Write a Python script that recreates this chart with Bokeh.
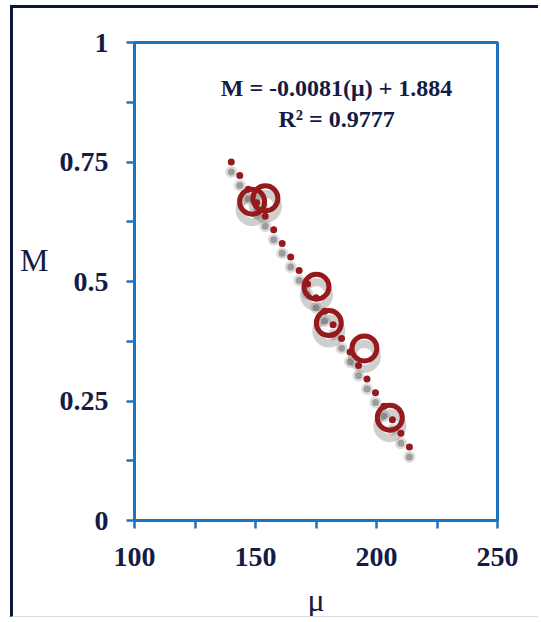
from bokeh.plotting import figure
from bokeh.models import Range1d, FixedTicker, Label
from bokeh.embed import file_html
from bokeh.resources import INLINE

# measured points: viscosity-type parameter mu vs M
mu = [148.6, 154.1, 175.2, 180.3, 195.0, 205.5]
m_vals = [0.667, 0.674, 0.489, 0.413, 0.360, 0.215]

# linear trend (as stated on the chart), extended a little past the data
slope = -0.0081
intercept = 1.884
r_squared = 0.9777
trend_mu = [140, 214]
trend_m = [slope * x + intercept for x in trend_mu]

x_ticks = [100, 150, 200, 250]
x_tick_labels = ["100", "150", "200", "250"]
x_minor = [125, 175, 225]
y_ticks = [0, 0.25, 0.5, 0.75, 1]
y_tick_labels = ["0", "0.25", "0.5", "0.75", "1"]
y_minor = [0.125, 0.375, 0.625, 0.875]

NAVY = "#141c46"
DARK = "#0b1640"
BLUE = "#1f72be"
RED = "#961a1c"
SERIF = "Liberation Serif"

W, H = 528, 612
B_LEFT, B_RIGHT, B_TOP, B_BOTTOM = 121, 44, 34, 98
frame_h = H - B_TOP - B_BOTTOM

p = figure(width=W, height=H, x_range=Range1d(100, 250), y_range=Range1d(0, 1),
           output_backend="svg", toolbar_location=None,
           min_border_left=B_LEFT, min_border_right=B_RIGHT,
           min_border_top=B_TOP, min_border_bottom=B_BOTTOM)
p.styles = {
    "margin-left": "10px",
    "margin-top": "5px",
    "border-left": f"3px solid {DARK}",
    "border-top": f"3px solid {DARK}",
    "border-bottom": "1px solid #dcdcdc",
}
p.background_fill_color = "white"
p.border_fill_color = "white"
p.grid.visible = False
p.outline_line_color = BLUE
p.outline_line_width = 3

for ax, ticks, minor, labels in ((p.xaxis[0], x_ticks, x_minor, x_tick_labels),
                                 (p.yaxis[0], y_ticks, y_minor, y_tick_labels)):
    ax.ticker = FixedTicker(ticks=ticks, minor_ticks=minor)
    ax.major_label_overrides = dict(zip(ticks, labels))
    ax.axis_line_color = BLUE
    ax.axis_line_width = 3
    ax.major_tick_line_color = BLUE
    ax.minor_tick_line_color = BLUE
    ax.major_tick_line_width = 2.5
    ax.minor_tick_line_width = 2.5
    ax.major_tick_in = 0
    ax.major_tick_out = 8
    ax.minor_tick_in = 0
    ax.minor_tick_out = 8
    ax.major_label_text_font = SERIF
    ax.major_label_text_font_size = "28px"
    ax.major_label_text_font_style = "bold"
    ax.major_label_text_color = NAVY
    ax.axis_label_text_font = SERIF
    ax.axis_label_text_font_size = "32px"
    ax.axis_label_text_font_style = "normal"
    ax.axis_label_text_color = NAVY
p.xaxis[0].major_label_standoff = 19
p.yaxis[0].major_label_standoff = 18
p.xaxis[0].axis_label = "\u03bc"
p.xaxis[0].axis_label_standoff = 13
# second (empty) line lifts the horizontal "M" a little above the axis middle
p.yaxis[0].axis_label = "M\n "
p.yaxis[0].axis_label_orientation = "horizontal"
p.yaxis[0].axis_label_standoff = 8

# soft drop shadow below the marks
dy = 10 * (p.y_range.end - p.y_range.start) / frame_h
trend_shadow = [v - dy for v in trend_m]
m_shadow = [v - dy * 0.8 for v in m_vals]
p.line(trend_mu, trend_shadow, line_color="#606060", line_alpha=0.22,
       line_width=12, line_dash="0 16", line_cap="round")
p.line(trend_mu, trend_shadow, line_color="#505050", line_alpha=0.45,
       line_width=7, line_dash="0 16", line_cap="round")
p.scatter(mu, m_shadow, marker="circle", size=25, fill_color=None,
          line_color="#606060", line_alpha=0.3, line_width=8)

# dotted trend line
p.line(trend_mu, trend_m, line_color=RED, line_width=7,
       line_dash="0 16", line_cap="round")

# hollow data markers
p.scatter(mu, m_vals, marker="circle", size=25, fill_color=None,
          line_color=RED, line_width=5)

p.add_layout(Label(x=183.5, y=0.905, text=f"M = {slope}(\u03bc) + {intercept}",
                   text_align="center", text_baseline="middle", text_font=SERIF,
                   text_font_style="bold", text_font_size="24px", text_color=NAVY))
p.add_layout(Label(x=183.5, y=0.84, text=f"R\u00b2 = {r_squared}",
                   text_align="center", text_baseline="middle", text_font=SERIF,
                   text_font_style="bold", text_font_size="24px", text_color=NAVY))

open("out.html", "w").write(file_html(p, INLINE))
